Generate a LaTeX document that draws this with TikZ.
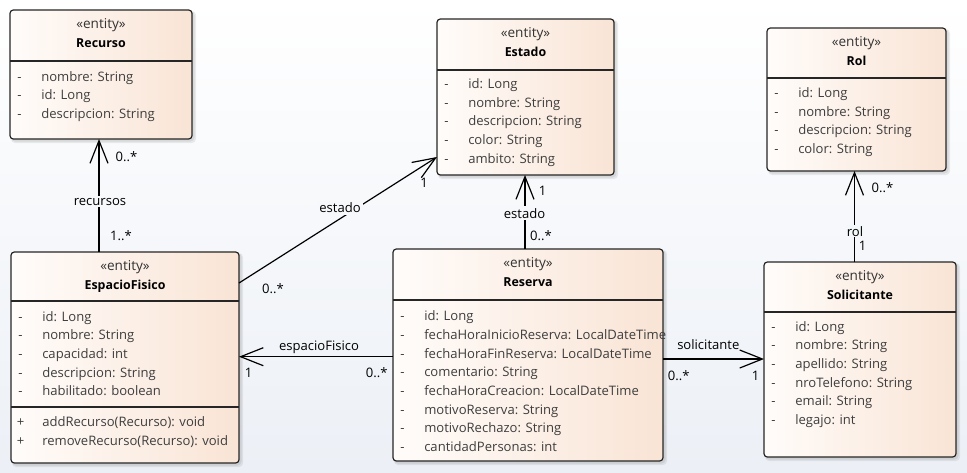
\documentclass[tikz,border=0pt]{standalone}
\usepackage{fontspec}
\setmainfont{Open Sans}
\usetikzlibrary{arrows.meta,fit}
\definecolor{bgend}{RGB}{236,240,246}
\definecolor{boxL}{RGB}{255,252,250}
\definecolor{boxR}{RGB}{249,228,213}
\definecolor{attrc}{RGB}{62,62,62}
\newcommand\umlfont{\fontsize{9.8}{11}\selectfont}
\newcommand\umlbold{\fontsize{9.3}{11}\selectfont\bfseries}
\newcommand\umlstereo{\fontsize{10.2}{11}\selectfont}
\tikzset{
  umlcls/.style={draw=black!85, line width=0.9pt, rounded corners=2.5pt,
    left color=boxL, right color=boxR, inner sep=0pt, outer sep=0pt},
  umlshadow/.style={black, opacity=0.07, rounded corners=3pt},
  divline/.style={draw=black!85, line width=0.9pt},
  stereo/.style={font=\umlstereo, text=black!80, anchor=base, inner sep=0pt},
  clsname/.style={font=\umlbold, text=black, anchor=base, inner sep=0pt},
  attr/.style={font=\umlfont, text=attrc, inner sep=0pt},
  lbl/.style={font=\umlfont, text=black, anchor=base, inner sep=1.5pt},
  assoc/.style={draw=black, line width=0.9pt},
  nav/.style={assoc, -{Straight Barb[length=17pt,width=13.5pt,line width=0.9pt]}}
}
\newcommand\umlbox[7]{%
  \fill[umlshadow] (#2+1,#3+1) rectangle (#4+4,#5+4);
  \fill[umlshadow] (#2+1,#3+1) rectangle (#4+2.5,#5+2.5);
  \node[umlcls, fit={(#2,#3) (#4,#5)}] (#1) {};
  \draw[divline] (#2,#6) -- (#4,#6);
  \node[stereo] (#1-st) at ({(#2+#4)/2},#3+18) {«entity»};
  \node[clsname] (#1-nm) at ({(#2+#4)/2},#3+37.5) {#7};
}
\newcommand\umlrows[5]{%
  \foreach \txt [count=\i] in {#5} {
    \node[attr, anchor=base west] (#1\i) at (#3+31,{#4+(\i-1)*18.7}) {\txt};
    \node[attr, anchor=base] (#1s\i) at (#3+9.5,{#4+(\i-1)*18.7}) {#2};
  }
}
\begin{document}
\begin{tikzpicture}[x=0.75pt, y=-0.75pt]
\useasboundingbox (0,0) rectangle (967,472);
\shade[top color=white, bottom color=bgend] (0,0) rectangle (967,472);

% classes
\umlbox{rec}{10}{10}{192}{139}{61}{Recurso}
\umlrows{rec-a}{-}{10}{81}{nombre: String, id: Long, descripcion: String}

\umlbox{est}{437}{19}{614}{175}{70}{Estado}
\umlrows{est-a}{-}{437}{88.5}{id: Long, nombre: String, descripcion: String, color: String, ambito: String}

\umlbox{rol}{767}{28}{946}{171}{78}{Rol}
\umlrows{rol-a}{-}{767}{97.5}{id: Long, nombre: String, descripcion: String, color: String}

\umlbox{sol}{764}{262}{956}{457}{312}{Solicitante}
\umlrows{sol-a}{-}{764}{331}{id: Long, nombre: String, apellido: String, nroTelefono: String, email: String, legajo: int}

\umlbox{res}{393}{249}{663}{461}{300}{Reserva}
\umlrows{res-a}{-}{393}{320.7}{id: Long, fechaHoraInicioReserva: LocalDateTime, fechaHoraFinReserva: LocalDateTime, comentario: String, fechaHoraCreacion: LocalDateTime, motivoReserva: String, motivoRechazo: String, cantidadPersonas: int}

\umlbox{esp}{11}{252}{239}{463}{301}{EspacioFisico}
\umlrows{esp-a}{-}{11}{321}{id: Long, nombre: String, capacidad: int, descripcion: String, habilitado: boolean}
\draw[divline] (11,407) -- (239,407);
\umlrows{esp-m}{+}{11}{426.7}{addRecurso(Recurso): void, removeRecurso(Recurso): void}

% connectors
\draw[nav] (esp.north -| 99,0) -- (rec.south -| 99,0);
\draw[nav] (esp.east |- 0,283) -- (est.west |- 0,157);
\draw[nav] (res.north -| 525,0) -- (est.south -| 525,0);
\draw[nav] (sol.north -| 854.5,0) -- (rol.south -| 854.5,0);
\draw[nav] (res.west |- 0,356.7) -- (esp.east |- 0,356.7);
\draw[nav] (res.east |- 0,359) -- (sol.west |- 0,359);

% labels
\node[lbl] (l-rec-m) at (126.5,161) {0..*};
\node[lbl, fill=bgend!43!white] (l-recursos) at (100,205) {recursos};
\node[lbl] (l-esp-m1) at (121,240.5) {1..*};

\node[lbl] (l-est1-1) at (424,187.7) {1};
\node[lbl, fill=bgend!44!white] (l-estado1) at (340,212.5) {estado};
\node[lbl] (l-est1-m) at (273,293) {0..*};

\node[lbl] (l-est2-1) at (542.5,195) {1};
\node[lbl, fill=bgend!46!white] (l-estado2) at (524.5,218) {estado};
\node[lbl] (l-est2-m) at (541,240.5) {0..*};

\node[lbl] (l-rol-m) at (882.5,192.5) {0..*};
\node[lbl, fill=bgend!50!white, inner sep=1pt] (l-rol) at (855,236) {rol};
\node[lbl] (l-rol-1) at (862.5,250) {1};

\node[lbl] (l-espacioFisico) at (319,350) {espacioFisico};
\node[lbl] (l-ef-1) at (248.7,377.3) {1};
\node[lbl] (l-ef-m) at (376.7,377.3) {0..*};

\node[lbl] (l-solicitante) at (708.3,349.3) {solicitante};
\node[lbl] (l-sol-m) at (678.8,380.5) {0..*};
\node[lbl] (l-sol-1) at (755.5,380.5) {1};
\end{tikzpicture}
\end{document}
